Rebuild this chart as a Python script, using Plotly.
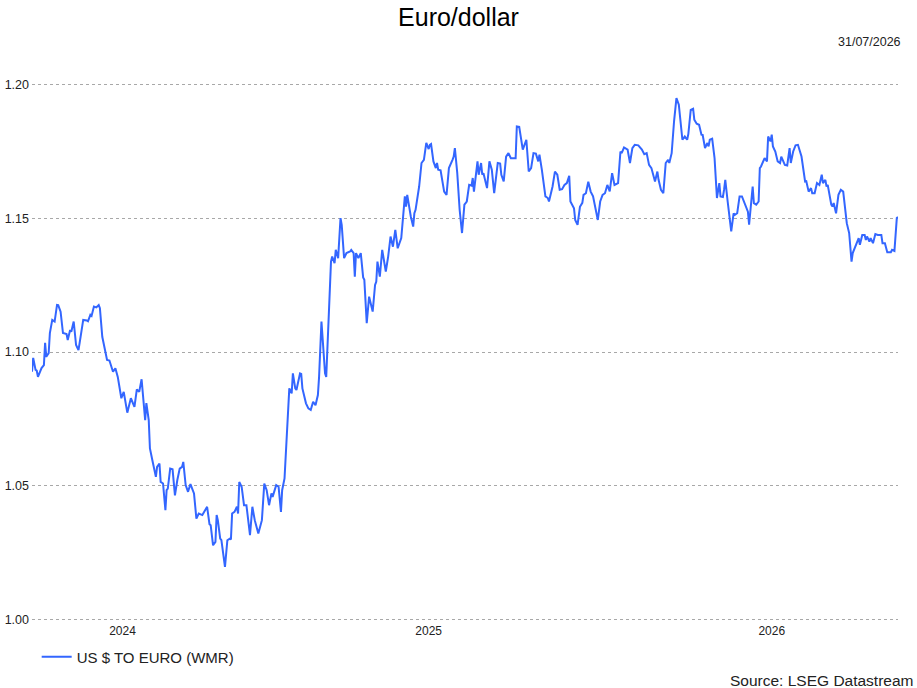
import plotly.graph_objects as go

# US $ to euro (WMR), roughly every other trading day
dates = [
    # 2024
    "2024-08-03", "2024-08-04", "2024-08-06", "2024-08-07", "2024-08-08", "2024-08-11", "2024-08-13", "2024-08-14",
    "2024-08-15", "2024-08-17", "2024-08-18", "2024-08-20", "2024-08-22", "2024-08-24", "2024-08-25", "2024-08-27",
    "2024-08-29",
    "2024-09-01", "2024-09-02", "2024-09-04", "2024-09-05", "2024-09-07", "2024-09-09", "2024-09-11", "2024-09-12",
    "2024-09-15", "2024-09-18", "2024-09-19", "2024-09-21", "2024-09-22", "2024-09-24", "2024-09-26", "2024-09-28",
    "2024-09-29",
    "2024-10-01", "2024-10-03", "2024-10-05", "2024-10-07", "2024-10-10", "2024-10-12", "2024-10-14", "2024-10-17",
    "2024-10-19", "2024-10-22", "2024-10-25", "2024-10-28", "2024-10-30",
    "2024-11-01", "2024-11-03", "2024-11-06", "2024-11-07", "2024-11-09", "2024-11-10", "2024-11-12", "2024-11-13",
    "2024-11-15", "2024-11-16", "2024-11-18", "2024-11-19", "2024-11-21", "2024-11-23", "2024-11-24", "2024-11-25",
    "2024-11-27", "2024-11-29",
    "2024-12-01", "2024-12-03", "2024-12-05", "2024-12-07", "2024-12-08", "2024-12-10", "2024-12-12", "2024-12-14",
    "2024-12-17", "2024-12-19", "2024-12-21", "2024-12-24", "2024-12-28", "2024-12-30", "2024-12-31",
    # 2025
    "2025-01-02", "2025-01-04", "2025-01-05", "2025-01-06", "2025-01-08", "2025-01-09", "2025-01-12", "2025-01-14",
    "2025-01-16", "2025-01-17", "2025-01-18", "2025-01-20", "2025-01-22", "2025-01-23", "2025-01-24", "2025-01-26",
    "2025-01-28", "2025-01-30",
    "2025-02-02", "2025-02-04", "2025-02-06", "2025-02-09", "2025-02-12", "2025-02-14", "2025-02-16", "2025-02-18",
    "2025-02-20", "2025-02-21", "2025-02-24", "2025-02-26", "2025-02-28",
    "2025-03-01", "2025-03-03", "2025-03-05", "2025-03-06", "2025-03-07", "2025-03-09", "2025-03-10", "2025-03-12",
    "2025-03-13", "2025-03-16", "2025-03-17", "2025-03-18", "2025-03-21", "2025-03-23", "2025-03-25", "2025-03-27",
    "2025-03-29", "2025-03-31",
    "2025-04-01", "2025-04-03", "2025-04-04", "2025-04-06", "2025-04-07", "2025-04-08", "2025-04-10", "2025-04-11",
    "2025-04-12", "2025-04-14", "2025-04-15", "2025-04-17", "2025-04-19", "2025-04-20", "2025-04-22", "2025-04-24",
    "2025-04-27", "2025-04-28", "2025-04-30",
    "2025-05-01", "2025-05-02", "2025-05-04", "2025-05-06", "2025-05-08", "2025-05-09", "2025-05-11", "2025-05-13",
    "2025-05-16", "2025-05-18", "2025-05-19", "2025-05-20", "2025-05-22", "2025-05-24", "2025-05-27", "2025-05-29",
    "2025-05-31",
    "2025-06-02", "2025-06-04", "2025-06-06", "2025-06-09", "2025-06-12", "2025-06-13", "2025-06-14", "2025-06-16",
    "2025-06-17", "2025-06-19", "2025-06-20", "2025-06-21", "2025-06-24", "2025-06-26", "2025-06-28", "2025-06-30",
    "2025-07-02", "2025-07-03", "2025-07-04", "2025-07-06", "2025-07-08", "2025-07-09", "2025-07-10", "2025-07-12",
    "2025-07-15", "2025-07-17", "2025-07-19", "2025-07-22", "2025-07-23", "2025-07-24", "2025-07-26", "2025-07-28",
    "2025-07-30",
    "2025-08-01", "2025-08-03", "2025-08-05", "2025-08-07", "2025-08-08", "2025-08-09", "2025-08-12", "2025-08-13",
    "2025-08-15", "2025-08-16", "2025-08-17", "2025-08-20", "2025-08-22", "2025-08-24", "2025-08-26", "2025-08-29",
    "2025-08-31",
    "2025-09-01", "2025-09-03", "2025-09-05", "2025-09-07", "2025-09-09", "2025-09-13", "2025-09-14", "2025-09-16",
    "2025-09-19", "2025-09-20", "2025-09-22", "2025-09-24", "2025-09-26", "2025-09-28", "2025-09-30",
    "2025-10-02", "2025-10-03", "2025-10-05", "2025-10-08", "2025-10-10", "2025-10-11", "2025-10-14", "2025-10-16",
    "2025-10-18", "2025-10-20", "2025-10-22", "2025-10-24", "2025-10-26", "2025-10-28", "2025-10-29",
    "2025-11-01", "2025-11-02", "2025-11-04", "2025-11-06", "2025-11-08", "2025-11-09", "2025-11-11", "2025-11-13",
    "2025-11-15", "2025-11-17", "2025-11-19", "2025-11-21", "2025-11-23", "2025-11-25", "2025-11-27", "2025-11-29",
    "2025-12-01", "2025-12-03", "2025-12-05", "2025-12-08", "2025-12-10", "2025-12-11", "2025-12-13", "2025-12-16",
    "2025-12-18", "2025-12-20", "2025-12-22", "2025-12-25", "2025-12-28", "2025-12-30",
    # 2026
    "2026-01-01", "2026-01-03", "2026-01-05", "2026-01-08", "2026-01-10", "2026-01-11", "2026-01-13", "2026-01-15",
    "2026-01-17", "2026-01-19", "2026-01-20", "2026-01-22", "2026-01-24", "2026-01-26", "2026-01-28", "2026-01-29",
    "2026-01-31",
    "2026-02-02", "2026-02-04", "2026-02-05", "2026-02-07", "2026-02-09", "2026-02-10", "2026-02-12", "2026-02-14",
    "2026-02-16", "2026-02-17", "2026-02-19", "2026-02-21", "2026-02-22", "2026-02-23", "2026-02-25", "2026-02-27",
    "2026-03-01", "2026-03-03", "2026-03-04", "2026-03-06", "2026-03-07", "2026-03-08", "2026-03-10", "2026-03-12",
    "2026-03-13", "2026-03-15", "2026-03-16", "2026-03-18", "2026-03-20", "2026-03-22", "2026-03-25", "2026-03-27",
    "2026-03-28", "2026-03-30", "2026-03-31",
    "2026-04-01", "2026-04-03", "2026-04-05", "2026-04-06", "2026-04-07", "2026-04-09", "2026-04-10", "2026-04-12",
    "2026-04-13", "2026-04-15", "2026-04-16", "2026-04-17", "2026-04-19", "2026-04-21", "2026-04-23", "2026-04-24",
    "2026-04-27", "2026-04-29",
    "2026-05-01", "2026-05-02", "2026-05-04", "2026-05-06", "2026-05-08", "2026-05-11", "2026-05-12", "2026-05-14",
    "2026-05-15", "2026-05-17", "2026-05-19", "2026-05-20", "2026-05-22", "2026-05-24", "2026-05-26", "2026-05-28",
    "2026-05-29", "2026-05-31",
    "2026-06-01", "2026-06-02", "2026-06-05", "2026-06-06", "2026-06-07", "2026-06-09", "2026-06-11", "2026-06-13",
    "2026-06-15", "2026-06-16", "2026-06-18", "2026-06-20", "2026-06-22", "2026-06-23", "2026-06-25", "2026-06-28",
    "2026-06-29",
    "2026-07-01", "2026-07-03", "2026-07-04", "2026-07-05", "2026-07-07", "2026-07-08", "2026-07-10", "2026-07-12",
    "2026-07-14", "2026-07-17", "2026-07-18", "2026-07-20", "2026-07-22", "2026-07-25", "2026-07-26", "2026-07-28",
    "2026-07-30", "2026-07-31",
]

usd_to_eur = [
    # 2024
    1.0926, 1.0978, 1.0933, 1.0930, 1.0907, 1.0940, 1.0951, 1.1034,
    1.0982, 1.0996, 1.1071, 1.1120, 1.1114, 1.1176, 1.1175, 1.1151,
    1.1071,
    1.1067, 1.1045, 1.1082, 1.1076, 1.1114, 1.1026, 1.1007, 1.1034,
    1.1120, 1.1118, 1.1115, 1.1139, 1.1135, 1.1170, 1.1167, 1.1176,
    1.1164,
    1.1057, 1.1014, 1.0970, 1.0968, 1.0926, 1.0939, 1.0907, 1.0827,
    1.0851, 1.0773, 1.0827, 1.0795, 1.0860,
    1.0851, 1.0898, 1.0745, 1.0809, 1.0745, 1.0639, 1.0596, 1.0577,
    1.0533, 1.0570, 1.0583, 1.0514, 1.0508, 1.0408, 1.0483, 1.0489,
    1.0564, 1.0561,
    1.0464, 1.0521, 1.0564, 1.0570, 1.0589, 1.0502, 1.0477, 1.0506,
    1.0471, 1.0377, 1.0396, 1.0390, 1.0421, 1.0356, 1.0352,
    # 2025
    1.0277, 1.0290, 1.0390, 1.0371, 1.0302, 1.0296, 1.0196, 1.0296,
    1.0302, 1.0299, 1.0396, 1.0402, 1.0421, 1.0396, 1.0514, 1.0496,
    1.0427, 1.0427,
    1.0315, 1.0421, 1.0371, 1.0321, 1.0371, 1.0508, 1.0483, 1.0427,
    1.0471, 1.0458, 1.0502, 1.0496, 1.0402,
    1.0483, 1.0527, 1.0695, 1.0820, 1.0864, 1.0845, 1.0920, 1.0864,
    1.0858, 1.0920, 1.0918, 1.0864, 1.0808, 1.0789, 1.0783, 1.0814,
    1.0801, 1.0839,
    1.0907, 1.1114, 1.1033, 1.0920, 1.0907, 1.1001, 1.1207, 1.1338,
    1.1357, 1.1332, 1.1382, 1.1351, 1.1501, 1.1476, 1.1351, 1.1370,
    1.1376, 1.1382, 1.1370,
    1.1282, 1.1370, 1.1351, 1.1370, 1.1279, 1.1270, 1.1108, 1.1207,
    1.1151, 1.1251, 1.1263, 1.1338, 1.1282, 1.1382, 1.1301, 1.1357,
    1.1432,
    1.1394, 1.1457, 1.1388, 1.1426, 1.1582, 1.1544, 1.1588, 1.1525,
    1.1507, 1.1469, 1.1519, 1.1532, 1.1619, 1.1707, 1.1719, 1.1782,
    1.1759, 1.1775, 1.1778, 1.1713, 1.1688, 1.1707, 1.1682, 1.1680,
    1.1600, 1.1588, 1.1688, 1.1719, 1.1731, 1.1763, 1.1669, 1.1532,
    1.1445,
    1.1551, 1.1563, 1.1625, 1.1622, 1.1651, 1.1600, 1.1713, 1.1663,
    1.1707, 1.1663, 1.1669, 1.1613, 1.1713, 1.1682, 1.1594, 1.1707,
    1.1705,
    1.1663, 1.1638, 1.1731, 1.1744, 1.1725, 1.1725, 1.1844, 1.1842,
    1.1757, 1.1769, 1.1794, 1.1675, 1.1688, 1.1744, 1.1742,
    1.1713, 1.1738, 1.1682, 1.1582, 1.1576, 1.1563, 1.1619, 1.1675,
    1.1663, 1.1607, 1.1609, 1.1625, 1.1632, 1.1659, 1.1563,
    1.1538, 1.1494, 1.1476, 1.1543, 1.1558, 1.1588, 1.1594, 1.1637,
    1.1600, 1.1582, 1.1532, 1.1494, 1.1563, 1.1588, 1.1594, 1.1625,
    1.1601, 1.1669, 1.1625, 1.1632, 1.1750, 1.1744, 1.1765, 1.1757,
    1.1707, 1.1763, 1.1775, 1.1773, 1.1757, 1.1740,
    # 2026
    1.1744, 1.1700, 1.1688, 1.1638, 1.1675, 1.1644, 1.1607, 1.1594,
    1.1707, 1.1719, 1.1707, 1.1744, 1.1863, 1.1950, 1.1925, 1.1881,
    1.1794,
    1.1806, 1.1794, 1.1816, 1.1906, 1.1910, 1.1869, 1.1854, 1.1850,
    1.1813, 1.1812, 1.1763, 1.1782, 1.1769, 1.1794, 1.1798, 1.1725,
    1.1576, 1.1632, 1.1582, 1.1580, 1.1607, 1.1644, 1.1563, 1.1501,
    1.1451, 1.1519, 1.1513, 1.1519, 1.1582, 1.1582, 1.1544, 1.1525,
    1.1476, 1.1576, 1.1619,
    1.1557, 1.1551, 1.1563, 1.1688, 1.1694, 1.1713, 1.1725, 1.1713,
    1.1806, 1.1788, 1.1813, 1.1769, 1.1750, 1.1713, 1.1707, 1.1731,
    1.1700, 1.1698,
    1.1763, 1.1707, 1.1750, 1.1773, 1.1775, 1.1731, 1.1697, 1.1638,
    1.1639, 1.1600, 1.1613, 1.1594, 1.1594, 1.1632, 1.1625, 1.1663,
    1.1632, 1.1644,
    1.1619, 1.1625, 1.1551, 1.1544, 1.1557, 1.1519, 1.1588, 1.1607,
    1.1600, 1.1563, 1.1482, 1.1445, 1.1338, 1.1370, 1.1394, 1.1426,
    1.1401,
    1.1438, 1.1438, 1.1419, 1.1432, 1.1413, 1.1426, 1.1407, 1.1441,
    1.1438, 1.1438, 1.1407, 1.1407, 1.1373, 1.1373, 1.1382, 1.1378,
    1.1501, 1.1505,
]

assert len(dates) == len(usd_to_eur)

# year labels sit in the middle of the part of each year that is shown
year_label_dates = ["2024-10-18", "2025-07-02", "2026-04-16"]
year_labels = ["2024", "2025", "2026"]

y_ticks = [1.00, 1.05, 1.10, 1.15, 1.20]

font = "Liberation Sans, Arial, sans-serif"

fig = go.Figure()
fig.add_trace(go.Scatter(
    x=dates, y=usd_to_eur, mode="lines", name="US $ TO EURO (WMR)",
    line=dict(color="#3366ff", width=2),
))

fig.update_layout(
    width=917, height=688,
    margin=dict(l=32, r=19, t=82, b=66),
    paper_bgcolor="white", plot_bgcolor="white",
    font=dict(family=font, size=12, color="#222"),
    title=dict(text="Euro/dollar", x=0.5, xanchor="center", y=1 - 17 / 688, yanchor="middle",
               font=dict(family=font, size=25, color="black")),
    showlegend=True,
    legend=dict(orientation="h", xref="container", yref="container", x=0.04, y=0.045,
                xanchor="left", yanchor="middle", font=dict(family=font, size=15, color="#222"),
                bgcolor="rgba(0,0,0,0)"),
)

fig.update_xaxes(
    range=[dates[0], dates[-1]],
    tickvals=year_label_dates, ticktext=year_labels,
    showgrid=False, zeroline=False, showline=False, ticks="",
    tickfont=dict(size=12, color="#222"), automargin=False,
)
# pad the range a touch so plotly keeps the 1.00 and 1.20 gridlines
fig.update_yaxes(
    range=[0.999, 1.201], tickvals=y_ticks, tickformat=".2f",
    showgrid=True, gridcolor="#a8a8a8", griddash="dot", gridwidth=1,
    zeroline=False, showline=False, ticks="", ticklabelstandoff=2,
    tickfont=dict(size=12.5, color="#222"), automargin=False,
)

fig.add_annotation(text="31/07/2026", xref="paper", yref="paper", x=(903 - 32) / 866, y=(622 - 42) / 540,
                   xanchor="right", yanchor="middle", showarrow=False,
                   font=dict(family=font, size=12.5, color="#222"))
fig.add_annotation(text="Source: LSEG Datastream", xref="paper", yref="paper", x=(916 - 32) / 866,
                   y=(622 - 680) / 540, xanchor="right", yanchor="middle", showarrow=False,
                   font=dict(family=font, size=15.5, color="#222"))

# the page has a default 8px body margin; drop it so the figure sits at 0,0
fig.write_html("out.html", config={"displayModeBar": False},
               post_script="document.body.style.margin = '0';")
